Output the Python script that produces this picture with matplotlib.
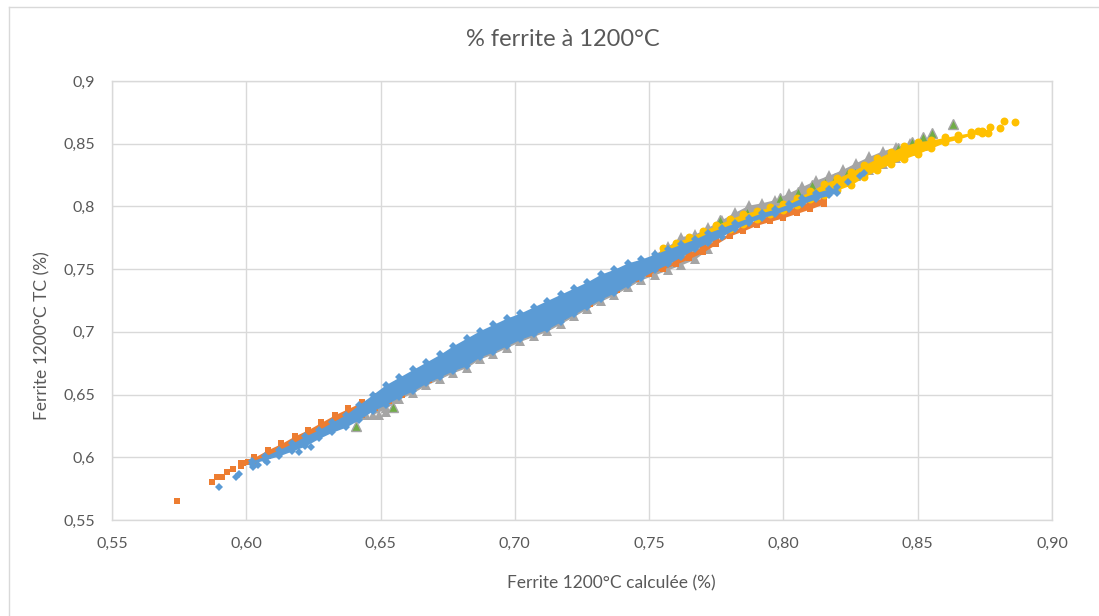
import matplotlib
matplotlib.use("Agg")
import matplotlib.pyplot as plt
from matplotlib.lines import Line2D

plt.rcParams["font.family"] = ["Lato", "DejaVu Sans"]

# ---------------------------------------------------------------- data
# Each series is a dense cloud of points: its packed core is given by an
# upper/lower envelope (x, hi, lo), its loose points are listed one by one.

# Series: blue diamonds
blue_x = [0.602, 0.607, 0.612, 0.617, 0.622, 0.627, 0.632, 0.637, 0.642, 0.647,
          0.652, 0.657, 0.662, 0.667, 0.672, 0.677, 0.682, 0.687, 0.692, 0.697,
          0.702, 0.707, 0.712, 0.717, 0.722, 0.727, 0.732, 0.737, 0.742, 0.747,
          0.752, 0.757, 0.762, 0.767, 0.772, 0.777, 0.782, 0.787, 0.792, 0.797,
          0.802, 0.807, 0.812, 0.817, 0.820]
blue_hi = [0.597, 0.601, 0.606, 0.611, 0.617, 0.622, 0.628, 0.634, 0.642, 0.650,
           0.658, 0.664, 0.670, 0.676, 0.682, 0.689, 0.695, 0.701, 0.706, 0.711,
           0.715, 0.720, 0.725, 0.730, 0.735, 0.740, 0.746, 0.750, 0.755, 0.758,
           0.762, 0.766, 0.770, 0.774, 0.779, 0.783, 0.787, 0.791, 0.795, 0.798,
           0.802, 0.807, 0.811, 0.814, 0.8155]
blue_lo = [0.595, 0.598, 0.601, 0.605, 0.609, 0.615, 0.620, 0.624, 0.630, 0.637,
           0.642, 0.648, 0.653, 0.659, 0.664, 0.669, 0.673, 0.680, 0.684, 0.689,
           0.694, 0.698, 0.702, 0.708, 0.714, 0.720, 0.726, 0.731, 0.737, 0.743,
           0.749, 0.754, 0.760, 0.766, 0.771, 0.776, 0.782, 0.787, 0.791, 0.794,
           0.798, 0.802, 0.806, 0.809, 0.811]
blue_pts_x = [0.5900, 0.5962, 0.5972, 0.6026, 0.6045, 0.6078, 0.6195, 0.6240,
              0.8241, 0.8285, 0.8300]
blue_pts_y = [0.5765, 0.5845, 0.5866, 0.5920, 0.5935, 0.5960, 0.6045, 0.6085,
              0.8197, 0.8240, 0.8265]

# Series: orange squares
orange_x = [0.598, 0.603, 0.608, 0.613, 0.618, 0.623, 0.628, 0.633, 0.638, 0.643,
            0.648, 0.653, 0.658, 0.668, 0.678, 0.688, 0.698, 0.708, 0.718, 0.728,
            0.738, 0.745, 0.750, 0.755, 0.760, 0.765, 0.770, 0.775, 0.780, 0.785,
            0.790, 0.795, 0.800, 0.805, 0.810, 0.815]
orange_hi = [0.5955, 0.600, 0.606, 0.611, 0.617, 0.622, 0.628, 0.634, 0.639, 0.644,
             0.649, 0.655, 0.660, 0.670, 0.682, 0.693, 0.703, 0.712, 0.722, 0.731,
             0.740, 0.745, 0.748, 0.752, 0.757, 0.763, 0.768, 0.773, 0.779, 0.785,
             0.789, 0.793, 0.796, 0.800, 0.804, 0.807]
orange_lo = [0.593, 0.597, 0.601, 0.606, 0.610, 0.615, 0.619, 0.624, 0.629, 0.634,
             0.639, 0.645, 0.650, 0.662, 0.673, 0.684, 0.694, 0.703, 0.712, 0.722,
             0.733, 0.7425, 0.746, 0.750, 0.754, 0.7585, 0.7635, 0.770, 0.7765, 0.7805,
             0.785, 0.788, 0.791, 0.7945, 0.798, 0.802]
orange_pts_x = [0.5742, 0.5871, 0.5890, 0.5908, 0.5928, 0.5950, 0.5989, 0.6006]
orange_pts_y = [0.5650, 0.5800, 0.5845, 0.5845, 0.5880, 0.5910, 0.5954, 0.5960]

# Series: grey triangles
grey_x = [0.647, 0.652, 0.657, 0.662, 0.667, 0.672, 0.677, 0.682, 0.687, 0.692,
          0.697, 0.702, 0.707, 0.712, 0.717, 0.722, 0.727, 0.732, 0.737, 0.742,
          0.747, 0.752, 0.757, 0.762, 0.767, 0.772, 0.777, 0.782, 0.787, 0.792,
          0.797, 0.802, 0.807, 0.812, 0.817, 0.822, 0.827, 0.832, 0.837, 0.842,
          0.847, 0.852]
grey_hi = [0.646, 0.653, 0.659, 0.665, 0.671, 0.677, 0.684, 0.690, 0.696, 0.701,
           0.706, 0.710, 0.715, 0.720, 0.725, 0.730, 0.735, 0.741, 0.745, 0.750,
           0.755, 0.762, 0.7685, 0.776, 0.778, 0.7835, 0.7895, 0.7955, 0.801, 0.803,
           0.8055, 0.811, 0.816, 0.821, 0.825, 0.8295, 0.835, 0.840, 0.8445, 0.8475,
           0.8505, 0.853]
grey_lo = [0.634, 0.639, 0.6465, 0.6515, 0.6575, 0.6625, 0.6675, 0.6715, 0.6785, 0.6825,
           0.6875, 0.6925, 0.6965, 0.7005, 0.7065, 0.7125, 0.7185, 0.7245, 0.7295, 0.7355,
           0.7415, 0.7455, 0.7495, 0.7535, 0.758, 0.766, 0.783, 0.787, 0.791, 0.795,
           0.798, 0.802, 0.806, 0.810, 0.814, 0.8195, 0.824, 0.829, 0.834, 0.839,
           0.844, 0.848]
grey_pts_x = [0.6445, 0.6494, 0.6520]
grey_pts_y = [0.6335, 0.6340, 0.6360]

# Series: yellow circles
yellow_x = [0.755, 0.760, 0.765, 0.770, 0.775, 0.780, 0.785, 0.790, 0.795, 0.800,
            0.805, 0.810, 0.815, 0.820, 0.825, 0.830, 0.835, 0.840, 0.845, 0.850,
            0.855, 0.860, 0.865, 0.870, 0.874]
yellow_hi = [0.7667, 0.7712, 0.7757, 0.7802, 0.7852, 0.7897, 0.7942, 0.7967, 0.7992, 0.8022,
             0.807, 0.812, 0.818, 0.8225, 0.8275, 0.833, 0.8385, 0.8435, 0.8485, 0.8515,
             0.853, 0.855, 0.857, 0.859, 0.8605]
yellow_lo = [0.763, 0.766, 0.770, 0.774, 0.778, 0.782, 0.786, 0.790, 0.794, 0.797,
             0.801, 0.806, 0.8093, 0.813, 0.817, 0.8235, 0.829, 0.834, 0.838, 0.842,
             0.8465, 0.851, 0.8535, 0.857, 0.8585]
yellow_pts_x = [0.8725, 0.8744, 0.8762, 0.8769, 0.8806, 0.8821, 0.8862]
yellow_pts_y = [0.8605, 0.8596, 0.8583, 0.8636, 0.8623, 0.8681, 0.8676]

# Series: green triangles
green_x = [0.6409, 0.6547, 0.7765, 0.7863, 0.7987, 0.8055, 0.8105, 0.8155, 0.8192,
           0.8236, 0.8266, 0.8310, 0.8347, 0.8390, 0.8425, 0.8477, 0.8521, 0.8552, 0.8632]
green_y = [0.6249, 0.6403, 0.7890, 0.7958, 0.8065, 0.8118, 0.8170, 0.8197, 0.8224,
           0.8264, 0.8277, 0.8317, 0.8370, 0.8410, 0.8465, 0.8516, 0.8556, 0.8583, 0.8655]

xtick_vals = [0.55, 0.60, 0.65, 0.70, 0.75, 0.80, 0.85, 0.90]
xtick_text = ["0,55", "0,60", "0,65", "0,70", "0,75", "0,80", "0,85", "0,90"]
ytick_vals = [0.55, 0.60, 0.65, 0.70, 0.75, 0.80, 0.85, 0.90]
ytick_text = ["0,55", "0,6", "0,65", "0,7", "0,75", "0,8", "0,85", "0,9"]

# ---------------------------------------------------------------- styles
BLUE, ORANGE, GREY, YELLOW, GREEN = "#5B9BD5", "#ED7D31", "#A5A5A5", "#FFC000", "#70AD47"
TEXT = "#595959"
GRID = "#D9D9D9"

W, H = 1099, 616
fig = plt.figure(figsize=(W / 100, H / 100), dpi=100)
fig.patch.set_facecolor("white")

# chart-area border (top and left edges)
fig.add_artist(Line2D([9 / W, 1.0], [1 - 7 / H, 1 - 7 / H], transform=fig.transFigure,
                      color=GRID, lw=1.0))
fig.add_artist(Line2D([9 / W, 9 / W], [0.0, 1 - 7 / H], transform=fig.transFigure,
                      color=GRID, lw=1.0))

ax = fig.add_axes([112 / W, 1 - 520 / H, 940 / W, 439 / H])
ax.set_xlim(0.55, 0.90)
ax.set_ylim(0.55, 0.90)
ax.set_xticks(xtick_vals)
ax.set_xticklabels(xtick_text)
ax.set_yticks(ytick_vals)
ax.set_yticklabels(ytick_text)
ax.grid(True, color=GRID, lw=1.0)
ax.set_axisbelow(True)
ax.tick_params(length=0, colors=TEXT, labelsize=11.5)
ax.tick_params(axis="x", pad=12)
ax.tick_params(axis="y", pad=12)
for s in ax.spines.values():
    s.set_color(GRID)
    s.set_linewidth(1.0)


def cloud(x, hi, lo, px, py, color, marker, ms, z, edge=None):
    style = dict(ls="none", marker=marker, ms=ms, color=color, zorder=z)
    if edge:
        style.update(mec=edge, mew=1.0)
    else:
        style.update(mew=0)
    if x:
        ax.fill_between(x, lo, hi, color=color, lw=0, zorder=z)
        ax.plot(x, hi, **style)
        ax.plot(x, lo, **style)
    ax.plot(px, py, **style)


cloud(grey_x, grey_hi, grey_lo, grey_pts_x, grey_pts_y, GREY, "^", 7.0, 2)
cloud([], [], [], green_x, green_y, GREEN, "^", 7.0, 2.5, edge=GREY)
cloud(orange_x, orange_hi, orange_lo, orange_pts_x, orange_pts_y, ORANGE, "s", 4.3, 3)
cloud(yellow_x, yellow_hi, yellow_lo, yellow_pts_x, yellow_pts_y, YELLOW, "o", 5.7, 4)
cloud(blue_x, blue_hi, blue_lo, blue_pts_x, blue_pts_y, BLUE, "D", 4.1, 5)

fig.text(563 / W, 1 - 40 / H, "% ferrite à 1200°C", ha="center", va="center",
         fontsize=17, color=TEXT)
fig.text(611 / W, 1 - 583 / H, "Ferrite 1200°C calculée (%)", ha="center", va="center",
         fontsize=12.5, color=TEXT)
fig.text(42 / W, 1 - 336 / H, "Ferrite 1200°C TC (%)", ha="center", va="center",
         rotation=90, fontsize=12.5, color=TEXT)

fig.savefig("out.png", dpi=100)
